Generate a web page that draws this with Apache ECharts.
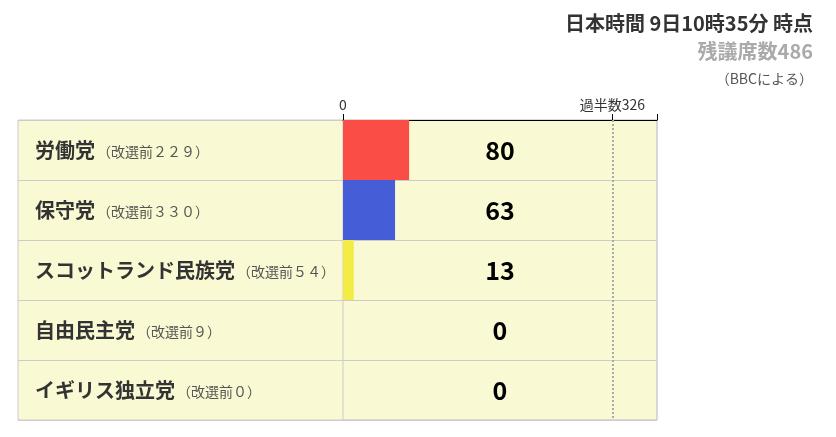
<!doctype html>
<html>
    <head>
        <meta charset="utf-8">
        <title>英総選挙 開票状況</title>
        <style>
            html, body { margin: 0; padding: 0; background: #fff; }
            #main { width: 836px; height: 437px; }
        </style>
    </head>
    <body>
        <div id="main"></div>
        <script src="https://cdn.jsdelivr.net/npm/echarts@6/dist/echarts.min.js"></script>
        <script>
            // party rows, top to bottom
            var parties = ['労働党', '保守党', 'スコットランド民族党', '自由民主党', 'イギリス独立党'];
            var prevSeats = ['２２９', '３３０', '５４', '９', '０'];
            var seats = [80, 63, 13, 0, 0];
            var barColors = ['#f94d45', '#455dd6', '#f2ec44', '#cccccc', '#cccccc'];

            var MAJORITY = 326;
            var AXIS_MAX = 380;
            var remaining = 486;

            var titleLines = ['日本時間 9日10時35分 時点', '残議席数' + remaining, '（BBCによる）'];

            var font = '"Noto Sans CJK JP", "Noto Sans", sans-serif';
            var cellBg = '#f9f9d3';
            var cellBorder = '#cccccc';

            var chart = echarts.init(document.getElementById('main'));

            chart.setOption({
                backgroundColor: '#fff',
                animation: false,
                textStyle: { fontFamily: font },
                title: [
                    {
                        text: titleLines[0], right: 18, top: 8,
                        textStyle: { fontSize: 20, fontWeight: 'bold', color: '#333', fontFamily: font }
                    },
                    {
                        text: titleLines[1], right: 18, top: 36,
                        textStyle: { fontSize: 20, fontWeight: 'bold', color: '#aaa', fontFamily: font }
                    },
                    {
                        text: titleLines[2], right: 18, top: 67,
                        textStyle: { fontSize: 14, fontWeight: 'normal', color: '#555', fontFamily: font }
                    }
                ],
                grid: [
                    // whole table (label column + bar column)
                    {
                        left: 18, right: 179, top: 120, bottom: 17,
                        show: true, backgroundColor: cellBg,
                        borderColor: cellBorder, borderWidth: 1
                    },
                    // bar column
                    {
                        left: 343, right: 179, top: 120, bottom: 17,
                        show: true, backgroundColor: 'transparent',
                        borderColor: cellBorder, borderWidth: 1
                    }
                ],
                xAxis: [
                    { gridIndex: 0, type: 'value', show: false },
                    {
                        gridIndex: 1,
                        type: 'value',
                        position: 'top',
                        min: 0,
                        max: AXIS_MAX,
                        axisLine: { show: true, lineStyle: { color: '#000', width: 1 } },
                        axisTick: {
                            show: true, length: 6,
                            customValues: [0, MAJORITY, AXIS_MAX],
                            lineStyle: { color: '#000' }
                        },
                        axisLabel: {
                            customValues: [0, MAJORITY],
                            margin: 8,
                            fontSize: 14,
                            color: '#333',
                            fontFamily: font,
                            formatter: function (v) {
                                return v === MAJORITY ? '過半数' + v : String(v);
                            }
                        },
                        splitLine: { show: false }
                    }
                ],
                yAxis: [
                    {
                        gridIndex: 0,
                        type: 'category',
                        inverse: true,
                        data: parties,
                        axisLine: { show: false },
                        axisTick: { show: false },
                        splitLine: { show: true, interval: 0, lineStyle: { color: cellBorder, width: 1 } },
                        axisLabel: {
                            inside: true,
                            margin: 17,
                            interval: 0,
                            formatter: function (name, idx) {
                                return '{a|' + name + '}{b|（改選前' + prevSeats[idx] + '）}';
                            },
                            rich: {
                                a: { fontSize: 20, fontWeight: 'bold', color: '#333', fontFamily: font },
                                b: { fontSize: 14, color: '#555', fontFamily: font, padding: [3, 0, 0, 2] }
                            }
                        }
                    },
                    {
                        gridIndex: 1,
                        type: 'category',
                        inverse: true,
                        data: parties,
                        show: false
                    }
                ],
                series: [
                    {
                        type: 'bar',
                        xAxisIndex: 1,
                        yAxisIndex: 1,
                        barWidth: '100%',
                        barGap: '-100%',
                        silent: true,
                        data: seats.map(function (v, i) {
                            return { value: v, itemStyle: { color: barColors[i] } };
                        }),
                        markLine: {
                            silent: true,
                            symbol: 'none',
                            label: { show: false },
                            lineStyle: { color: '#aaa', type: [2, 2], width: 2 },
                            data: [{ xAxis: MAJORITY }]
                        }
                    },
                    {
                        // invisible full-width bars used to centre the seat counts
                        type: 'bar',
                        xAxisIndex: 1,
                        yAxisIndex: 1,
                        barWidth: '100%',
                        barGap: '-100%',
                        silent: true,
                        itemStyle: { color: 'rgba(0,0,0,0)' },
                        data: seats.map(function () { return AXIS_MAX; }),
                        label: {
                            show: true,
                            position: 'inside',
                            fontSize: 25,
                            fontWeight: 'bold',
                            color: '#000',
                            fontFamily: font,
                            formatter: function (p) {
                                return String(seats[p.dataIndex]);
                            }
                        }
                    }
                ]
            });

            window.addEventListener('resize', function () {
                chart.resize();
            });
        </script>
    </body>
</html>
